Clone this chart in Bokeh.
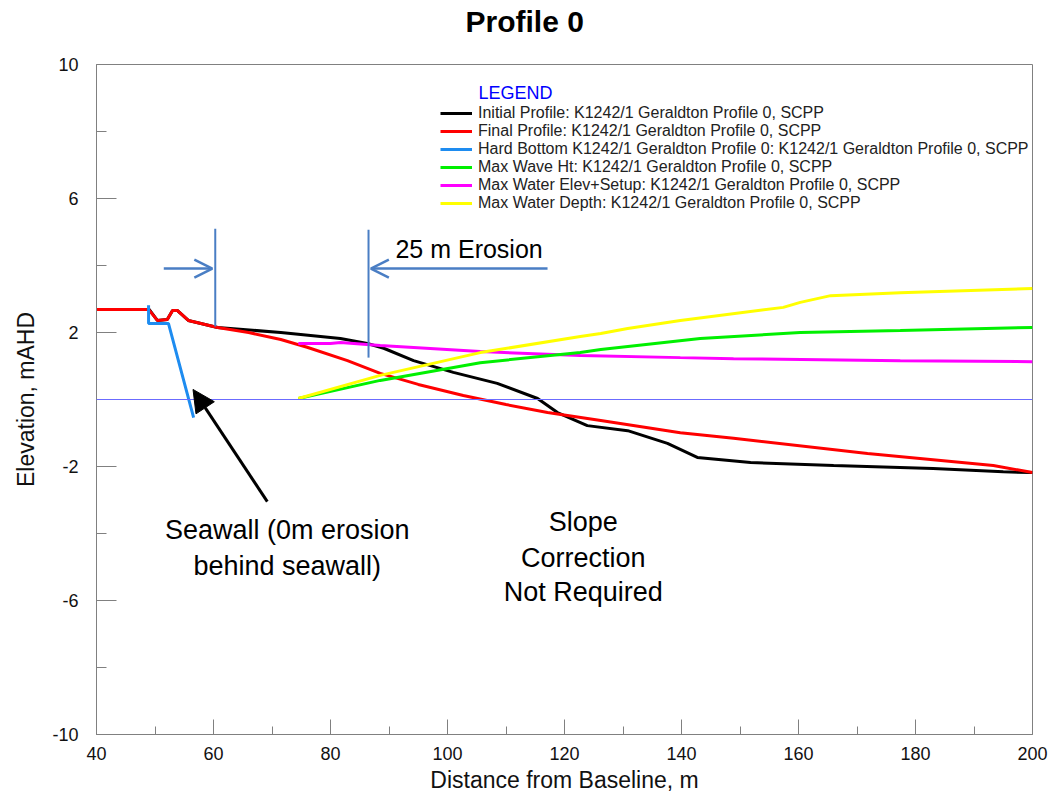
from bokeh.plotting import figure
from bokeh.models import (Range1d, FixedTicker, Legend, LegendItem, Arrow,
                          OpenHead, NormalHead, Span, Label, Title)
from bokeh.embed import file_html
from bokeh.resources import INLINE
from bokeh.core.properties import value

FONT = "Liberation Sans"

# Cross-shore profile data (distance from baseline in m, elevation in mAHD)
initial_x = [40, 49, 50.4, 52.1, 53, 53.8, 55.7, 60.7, 71.5, 81.7, 86.3, 89.1, 94.2,
             101, 108.5, 115.4, 118.8, 123.9, 130.8, 137.6, 142.7, 151.8, 166, 183,
             195, 200]
initial_y = [2.69, 2.69, 2.36, 2.39, 2.66, 2.66, 2.36, 2.15, 2.0, 1.82, 1.67, 1.53, 1.16,
             0.81, 0.48, 0.03, -0.39, -0.78, -0.93, -1.31, -1.73, -1.88, -1.97, -2.06,
             -2.16, -2.18]

final_x = [40, 48.9, 50.4, 52.1, 53, 53.8, 55.7, 60.7, 66, 71.5, 76, 82.9, 88.5, 95,
           102.7, 110, 117.1, 126.2, 139.8, 148.9, 171.8, 193.3, 200]
final_y = [2.69, 2.69, 2.36, 2.39, 2.66, 2.66, 2.36, 2.15, 2.0, 1.79, 1.56, 1.16, 0.78,
           0.45, 0.12, -0.15, -0.39, -0.63, -0.99, -1.16, -1.61, -1.97, -2.18]

hard_x = [48.9, 48.9, 52.3, 56.6]
hard_y = [2.81, 2.27, 2.27, -0.54]

wave_x = [74.5, 88.5, 105.6, 122.7, 126.2, 143.2, 160.3, 177.4, 200]
wave_y = [0.03, 0.57, 1.10, 1.40, 1.49, 1.82, 2.0, 2.06, 2.15]

setup_x = [74.5, 80, 81.7, 88.5, 105.6, 122.7, 139.8, 148.9, 177.4, 200]
setup_y = [1.67, 1.67, 1.70, 1.61, 1.43, 1.31, 1.25, 1.22, 1.16, 1.13]

depth_x = [74.5, 88.5, 105.6, 122.7, 126.2, 130.8, 139.8, 157.4, 160.3, 165.5, 177.4, 200]
depth_y = [0.03, 0.72, 1.40, 1.88, 1.97, 2.12, 2.36, 2.75, 2.90, 3.10, 3.19, 3.31]

legend_labels = [
    "Initial Profile: K1242/1 Geraldton Profile 0, SCPP",
    "Final Profile: K1242/1 Geraldton Profile 0, SCPP",
    "Hard Bottom K1242/1 Geraldton Profile 0: K1242/1 Geraldton Profile 0, SCPP",
    "Max Wave Ht: K1242/1 Geraldton Profile 0, SCPP",
    "Max Water Elev+Setup: K1242/1 Geraldton Profile 0, SCPP",
    "Max Water Depth: K1242/1 Geraldton Profile 0, SCPP",
]

x_ticks = [40, 60, 80, 100, 120, 140, 160, 180, 200]
x_minor = [50, 70, 90, 110, 130, 150, 170, 190]
y_ticks = [-10, -6, -2, 2, 6, 10]
y_minor = [-8, -4, 0, 4, 8]

# Erosion markers: initial crest and post-storm intersection
erosion_x = [60.3, 86.5]
erosion_top = [5.1, 5.07]
erosion_bottom = [2.18, 1.25]

p = figure(frame_width=936, frame_height=670,
           x_range=Range1d(40, 200), y_range=Range1d(-10, 10),
           output_backend="svg", toolbar_location=None,
           min_border_left=96, min_border_right=25,
           min_border_top=64, min_border_bottom=66)
p.background_fill_color = "white"
p.border_fill_color = "white"
p.outline_line_color = "#808080"
p.xgrid.visible = False
p.ygrid.visible = False

# Gap between the heading and the plot frame, then the heading itself
p.add_layout(Title(text=" ", text_font_size="10px", standoff=14), "above")
p.add_layout(Title(text="Profile 0", text_font=FONT, text_font_size="30px",
                   text_font_style="bold", text_color="black",
                   align="left", offset=369, standoff=0), "above")

for ax in (p.xaxis[0], p.yaxis[0]):
    ax.axis_line_color = "#808080"
    ax.major_tick_line_color = "#808080"
    ax.minor_tick_line_color = "#808080"
    ax.major_tick_out = 0
    ax.minor_tick_out = 0
    ax.major_label_text_font = FONT
    ax.major_label_text_font_size = "18px"
    ax.major_label_text_color = "#111111"
    ax.axis_label_text_font = FONT
    ax.axis_label_text_font_size = "23px"
    ax.axis_label_text_font_style = "normal"
    ax.axis_label_text_color = "#111111"

p.xaxis.ticker = FixedTicker(ticks=x_ticks, minor_ticks=x_minor)
p.xaxis.major_tick_in = 15
p.xaxis.minor_tick_in = 8
p.xaxis.major_label_standoff = 12
p.xaxis.axis_label = "Distance from Baseline, m"
p.xaxis.axis_label_standoff = 4

p.yaxis.ticker = FixedTicker(ticks=y_ticks, minor_ticks=y_minor)
p.yaxis.major_label_overrides = {t: str(t) for t in y_ticks}
p.yaxis.major_tick_in = 20
p.yaxis.minor_tick_in = 10
p.yaxis.major_label_standoff = 18
p.yaxis.axis_label = "Elevation, mAHD"
p.yaxis.axis_label_standoff = 10

# Still water level
p.add_layout(Span(location=0, dimension="width", line_color="#6B6BFF", line_width=1))

r_init = p.line(initial_x, initial_y, line_color="black", line_width=3)
r_final = p.line(final_x, final_y, line_color="#FF0000", line_width=3)
r_hard = p.line(hard_x, hard_y, line_color="#1E8CF0", line_width=3)
r_setup = p.line(setup_x, setup_y, line_color="#FF00FF", line_width=3)
r_wave = p.line(wave_x, wave_y, line_color="#00F000", line_width=3)
r_depth = p.line(depth_x, depth_y, line_color="#FFFF00", line_width=3)

renderers = [r_init, r_final, r_hard, r_wave, r_setup, r_depth]
legend = Legend(items=[LegendItem(label=lab, renderers=[r])
                       for lab, r in zip(legend_labels, renderers)],
                location=(344, 522), glyph_width=32, glyph_height=18,
                label_height=18, spacing=0, padding=0, margin=0,
                label_standoff=6, label_text_font=FONT,
                label_text_font_size="16px", label_text_color="#222222",
                border_line_alpha=0, background_fill_alpha=0)
p.add_layout(legend)
p.add_layout(Label(x=105.3, y=9.16, text="LEGEND", text_font=FONT,
                   text_font_size="18px", text_color="#0000FF",
                   text_baseline="middle"))

# Erosion extent markers and arrows
anno_blue = "#4A7EC4"
p.segment(x0=erosion_x, y0=erosion_top, x1=erosion_x, y1=erosion_bottom,
          line_color=anno_blue, line_width=2)
p.add_layout(Arrow(end=OpenHead(size=18, line_color=anno_blue, line_width=2.5),
                   x_start=51.5, y_start=3.91, x_end=59.8, y_end=3.91,
                   line_color=anno_blue, line_width=2.5))
p.add_layout(Arrow(end=OpenHead(size=18, line_color=anno_blue, line_width=2.5),
                   x_start=117.1, y_start=3.91, x_end=86.9, y_end=3.91,
                   line_color=anno_blue, line_width=2.5))
p.add_layout(Label(x=91.1, y=4.48, text="25 m Erosion", text_font=FONT,
                   text_font_size="25px", text_color="black",
                   text_baseline="middle"))

# Seawall pointer
p.add_layout(Arrow(end=NormalHead(size=22, fill_color="black", line_color="black"),
                   x_start=69.2, y_start=-3.05, x_end=56.5, y_end=0.3,
                   line_color="black", line_width=3))

p.text(x=[72.6, 72.6], y=[-3.91, -4.96],
       text=["Seawall (0m erosion", "behind seawall)"],
       text_font=value(FONT), text_font_size="27px", text_color="black",
       text_align="center", text_baseline="middle")
p.text(x=[123.2, 123.2, 123.2], y=[-3.67, -4.72, -5.76],
       text=["Slope", "Correction", "Not Required"],
       text_font=value(FONT), text_font_size="27px", text_color="black",
       text_align="center", text_baseline="middle")

open("out.html", "w").write(file_html(p, INLINE))
